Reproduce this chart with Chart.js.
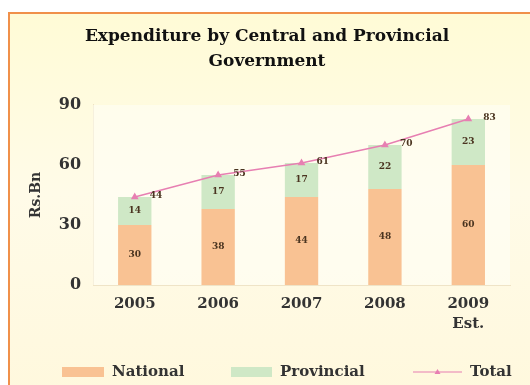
<!DOCTYPE html>
<html>
<head>
<meta charset="utf-8">
<script src="https://cdn.jsdelivr.net/npm/chart.js@4/dist/chart.umd.min.js"></script>
<style>
  html, body { margin: 0; padding: 0; background: #fff; overflow: hidden; }
  #frame {
    position: absolute; left: 8px; top: 12px; width: 560px; height: 400px;
    border-top: 2px solid #F0904A; border-left: 2px solid #F0904A;
    background: linear-gradient(180deg, #FFFBD6 0%, #FFFBE8 45%, #FFF8DC 100%);
  }
  #wrap { position: absolute; left: 0; top: 0; width: 540px; height: 380px; }
</style>
</head>
<body>
<div id="frame"><div id="wrap"><canvas id="myChart"></canvas></div></div>
<script>
const years = [["2005"], ["2006"], ["2007"], ["2008"], ["2009", "Est."]];
const national = [30, 38, 44, 48, 60];
const provincial = [14, 17, 17, 22, 23];
const total = [44, 55, 61, 70, 83];
const yTicks = [0, 30, 60, 90];

const serif = "'DejaVu Serif', 'Liberation Serif', serif";
const labelColor = "#4a3420";

//legend row: left edge of each key and its width, baseline of the row
const legendKeys = [52, 221, 403];
const legendKeyWidth = [42, 41, 49];
const legendY = 358;

// light fill behind the plot area
const plotBg = {
    id: "plotBg",
    beforeDatasetsDraw(chart) {
        const a = chart.chartArea;
        const ctx = chart.ctx;
        ctx.save();
        ctx.fillStyle = "rgba(255,255,250,0.5)";
        ctx.fillRect(a.left, a.top, a.right - a.left, a.bottom - a.top);
        ctx.restore();
    },
};

// value labels inside the bars and beside the total line
const valueLabels = {
    id: "valueLabels",
    afterDatasetsDraw(chart) {
        const ctx = chart.ctx;
        ctx.save();
        ctx.font = "bold 9px " + serif;
        ctx.fillStyle = labelColor;
        ctx.textAlign = "center";
        ctx.textBaseline = "middle";
        [0, 1].forEach((di) => {
            chart.getDatasetMeta(di).data.forEach((bar, i) => {
                const mid = (bar.y + bar.base) / 2;
                ctx.fillText(chart.data.datasets[di].data[i], bar.x, mid);
            });
        });
        ctx.textAlign = "left";
        chart.getDatasetMeta(2).data.forEach((pt, i) => {
            ctx.fillText(total[i], pt.x + 15, pt.y - 1);
        });
        ctx.restore();
    },
};

// spread-out legend row under the axis
const wideLegend = {
    id: "wideLegend",
    afterDraw(chart) {
        const ctx = chart.ctx;
        ctx.save();
        ctx.font = "bold 15px " + serif;
        ctx.textBaseline = "middle";
        chart.data.datasets.forEach((ds, i) => {
            const x = legendKeys[i];
            const w = legendKeyWidth[i];
            if (ds.type === "line") {
                ctx.strokeStyle = ds.borderColor;
                ctx.lineWidth = 1.2;
                ctx.beginPath();
                ctx.moveTo(x, legendY);
                ctx.lineTo(x + w, legendY);
                ctx.stroke();
                const cx = x + w / 2;
                ctx.fillStyle = ds.borderColor;
                ctx.beginPath();
                ctx.moveTo(cx, legendY - 3);
                ctx.lineTo(cx + 3, legendY + 2);
                ctx.lineTo(cx - 3, legendY + 2);
                ctx.closePath();
                ctx.fill();
            } else {
                ctx.fillStyle = ds.backgroundColor;
                ctx.fillRect(x, legendY - 5, w, 10);
            }
            ctx.fillStyle = "#333";
            ctx.fillText(ds.label, x + w + 8, legendY);
        });
        ctx.restore();
    },
};

const data = {
    labels: years,
    datasets: [
        {
            type: "bar",
            label: "National",
            data: national,
            backgroundColor: "#F9C293",
            stack: "s",
            order: 2,
        },
        {
            type: "bar",
            label: "Provincial",
            data: provincial,
            backgroundColor: "#CFE8C6",
            stack: "s",
            order: 2,
        },
        {
            type: "line",
            label: "Total",
            data: total,
            borderColor: "#E77FB2",
            backgroundColor: "#E77FB2",
            borderWidth: 1.5,
            pointStyle: "triangle",
            pointRadius: 3,
            order: 1,
        },
    ],
};

const config = {
    type: "bar",
    data: data,
    options: {
        responsive: true,
        maintainAspectRatio: false,
        animation: false,
        layout: { padding: { left: 14, right: 40, bottom: 51 } },
        datasets: { bar: { barPercentage: 0.4, categoryPercentage: 1 } },
        plugins: {
            title: {
                display: true,
                text: ["Expenditure by Central and Provincial", "Government"],
                color: "#111",
                font: { family: serif, size: 17, weight: "bold", lineHeight: 1.47 },
                padding: { top: 10, bottom: 31 },
            },
            legend: { display: false },
            tooltip: { enabled: false },
        },
        scales: {
            x: {
                stacked: true,
                grid: { display: false, drawTicks: false },
                border: { color: "#EFE3C4" },
                ticks: {
                    color: "#333",
                    font: { family: serif, size: 15, weight: "bold", lineHeight: 1.33 },
                    padding: 9,
                },
            },
            y: {
                stacked: true,
                min: 0,
                max: 90,
                afterBuildTicks: (axis) => {
                    axis.ticks = yTicks.map((v) => ({ value: v }));
                },
                grid: { display: false, drawTicks: false },
                border: { color: "#EFE3C4" },
                ticks: {
                    color: "#333",
                    font: { family: serif, size: 16, weight: "bold" },
                    padding: 12,
                },
                title: {
                    display: true,
                    text: "Rs.Bn",
                    color: "#333",
                    font: { family: serif, size: 14, weight: "bold" },
                    padding: { bottom: 2 },
                },
            },
        },
    },
    plugins: [plotBg, valueLabels, wideLegend],
};

const myChart = new Chart(document.querySelector("#myChart"), config);
</script>
</body>
</html>
